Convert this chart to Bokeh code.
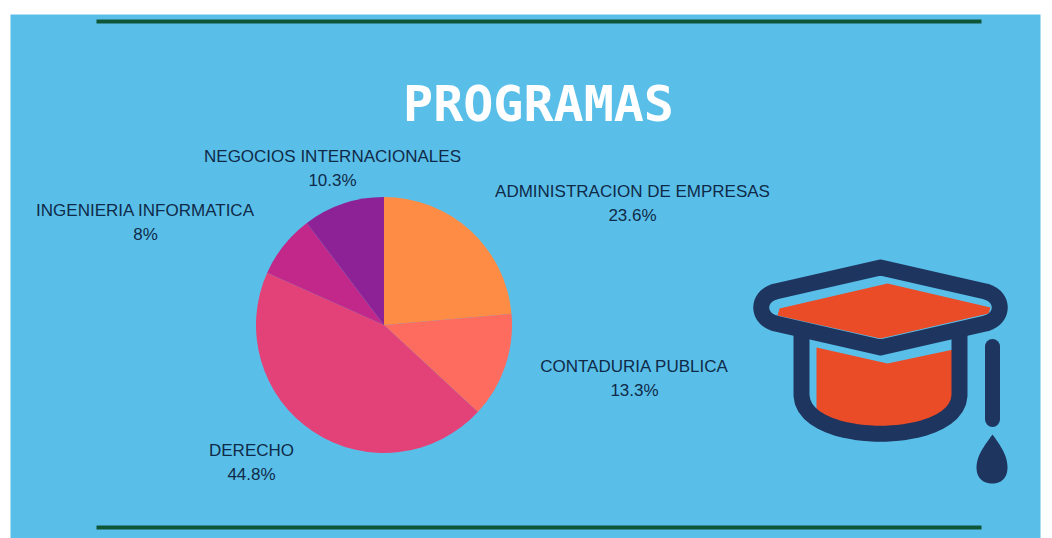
from math import pi
import numpy as np
from bokeh.plotting import figure
from bokeh.models import Range1d
from bokeh.core.properties import value
from bokeh.embed import file_html
from bokeh.resources import INLINE

# ---- data ----
categories = ["ADMINISTRACION DE EMPRESAS", "CONTADURIA PUBLICA", "DERECHO",
              "INGENIERIA INFORMATICA", "NEGOCIOS INTERNACIONALES"]
shares = [23.6, 13.3, 44.8, 8.0, 10.3]
share_labels = ["23.6%", "13.3%", "44.8%", "8%", "10.3%"]
colors = ["#FF8C45", "#FE6B5F", "#E24277", "#C1288A", "#8D2196"]
title = "PROGRAMAS"

# ---- layout (screen pixel coordinates) ----
label_x = [632, 634, 251, 145, 332]
label_y = [191, 366, 450, 210, 156]
CX, CY, R = 383.5, 324.5, 128
BG, NAVY, RED, GREEN, TXT = "#5ABFE8", "#1E3560", "#EA4C28", "#0F5638", "#0F2A48"

p = figure(width=1052, height=538, output_backend="svg", toolbar_location=None,
           x_range=Range1d(0, 1052), y_range=Range1d(538, 0),
           min_border=0, outline_line_color=None, background_fill_color="white",
           border_fill_color="white")
p.axis.visible = False
p.grid.visible = False

# panel
p.quad(left=10, right=1040, top=14, bottom=538, fill_color=BG, line_color=None)

# rules
for y in (21, 527):
    p.line([96, 981], [y, y], line_color=GREEN, line_width=4)

# pie: clockwise from the top
fr = np.cumsum([0] + shares) / sum(shares)
start = pi / 2 - 2 * pi * fr[:-1]
end = pi / 2 - 2 * pi * fr[1:]
p.wedge(x=CX, y=CY, radius=R, start_angle=start, end_angle=end,
        direction="clock", fill_color=colors, line_color=None)

# labels
font = value("Liberation Sans")
p.text(label_x, label_y, text=categories, text_font=font, text_font_size="17px",
       text_color=TXT, text_align="center", text_baseline="middle")
p.text(label_x, [y + 24 for y in label_y], text=share_labels, text_font=font,
       text_font_size="17px", text_color=TXT, text_align="center", text_baseline="middle")

# title
p.text([538], [103], text=[title], text_font=value("DejaVu Sans Mono"),
       text_font_style="bold", text_font_size="50px", text_color="white",
       text_align="center", text_baseline="middle")


# ---- mortarboard icon ----
def curve(a, c1, c2, b, n=24):
    t = np.linspace(0, 1, n)
    f = lambda i: ((1 - t) ** 3 * a[i] + 3 * t * (1 - t) ** 2 * c1[i]
                   + 3 * t ** 2 * (1 - t) * c2[i] + t ** 3 * b[i])
    return f(0), f(1)


# red fills
bx, by = curve((953, 405), (930, 435), (840, 435), (816, 410))
p.patch(np.r_[816, 887, 953, bx], np.r_[347, 363, 349, by], fill_color=RED, line_color=None)
p.patch([887, 990, 988, 880, 777, 779], [283, 307, 313, 338, 315, 308],
        fill_color=RED, line_color=None)

# navy strokes
lx, ly = curve((801, 395), (803, 446), (957, 446), (959, 395))
p.line(np.r_[801, lx, 959], np.r_[330, ly, 330], line_color=NAVY, line_width=16,
       line_join="round")
r1x, r1y = curve((985, 291), (1004, 296), (1004, 318), (985, 323))
l1x, l1y = curve((775, 323), (756, 318), (756, 296), (775, 291))
p.patch(np.r_[880, r1x, 880, l1x], np.r_[267, r1y, 347, l1y],
        fill_color=None, line_color=NAVY, line_width=16, line_join="round")
p.line([992, 992], [346, 419], line_color=NAVY, line_width=15, line_cap="round")

# drop
x1, y1 = curve((992, 434), (1000, 445), (1007, 455), (1007, 467))
x2, y2 = curve((1007, 467), (1007, 478), (1000, 483), (992, 483))
x3, y3 = curve((992, 483), (983, 483), (976, 478), (976, 467))
x4, y4 = curve((976, 467), (976, 455), (984, 445), (992, 434))
p.patch(np.r_[x1, x2, x3, x4], np.r_[y1, y2, y3, y4], fill_color=NAVY, line_color=None)

open("out.html", "w").write(file_html(p, INLINE))
